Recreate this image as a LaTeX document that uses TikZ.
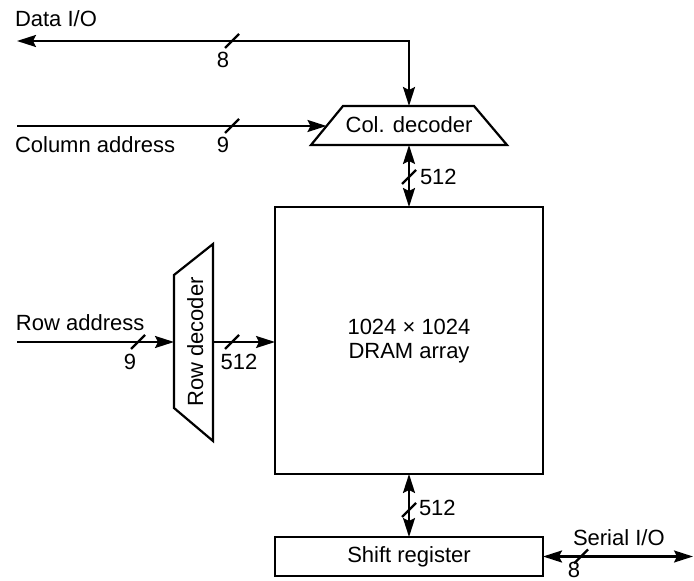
\documentclass[tikz,border=0pt]{standalone}
\usepackage{fontspec}
\setmainfont{Liberation Sans}
\usetikzlibrary{arrows.meta}
\begin{document}
\begin{tikzpicture}[x=0.5pt,y=-0.5pt,line width=1.1pt,
  every node/.style={font=\fontsize{11}{13}\selectfont,inner sep=0pt,outer sep=0pt},
  tip/.style={-{Stealth[length=9.5pt,width=6pt,inset=1.5pt]}},
  both/.style={{Stealth[length=9.5pt,width=6pt,inset=1.5pt]}-{Stealth[length=9.5pt,width=6pt,inset=1.5pt]}},
  blockbox/.style={draw,minimum width=134pt},
  lbl/.style={anchor=base},
  lblw/.style={anchor=base west}]
\useasboundingbox (0,0) rectangle (694,581);
\newcommand\busmark[1]{\draw (#1) ++(-7,7) -- ++(14,-14);}

% memory array and shift register
\node[blockbox,minimum height=133.5pt] (dram) at (409,340.5) {};
\node[lbl] (dramA) at (409,335) {1024 × 1024};
\node[lbl] (dramB) at (409,359) {DRAM array};
\node[blockbox,minimum height=19.5pt] (shift) at (409,556.5) {Shift register};

% column decoder
\coordinate (cbl) at (311,145);
\coordinate (ctl) at (343,106);
\coordinate (ctr) at (474,106);
\coordinate (cbr) at (507,145);
\draw (cbl) -- (ctl) -- (ctr) -- (cbr) -- cycle;
\node[lbl] (col) at (409,133) {Col. decoder};
\coordinate (coltop) at (409,106);
\coordinate (colbot) at (409,145);
\coordinate (colin) at (326.5,126);

% row decoder
\coordinate (rtl) at (174,275);
\coordinate (rtr) at (213,244);
\coordinate (rbr) at (213,441);
\coordinate (rbl) at (174,408);
\draw (rtl) -- (rtr) -- (rbr) -- (rbl) -- cycle;
\node[rotate=90,anchor=base] (row) at (203,342) {Row decoder};
\coordinate (rowin) at (174,342);
\coordinate (rowout) at (213,342);

% free ends
\coordinate (dataend) at (17,41);
\coordinate (datacorner) at (409,41);
\coordinate (colstart) at (17,126);
\coordinate (rowstart) at (17,342);
\coordinate (serialend) at (693,556.5);

% connectors
\draw[both] (dataend) -- (datacorner) -- (coltop);
\draw[tip] (colstart) -- (colin);
\draw[both] (colbot) -- (dram.north);
\draw[tip] (rowstart) -- (rowin);
\draw[tip] (rowout) -- (rowout -| dram.west);
\draw[both] (dram.south) -- (shift.north);
\draw[both] (shift.east) -- (serialend);

% bus width marks
\coordinate (m1) at (232,41);
\coordinate (m2) at (232,126);
\coordinate (m3) at (409,177);
\coordinate (m4) at (138,342);
\coordinate (m5) at (232,342);
\coordinate (m6) at (409,510);
\coordinate (m7) at (581,556.5);
\busmark{m1}\busmark{m2}\busmark{m3}\busmark{m4}\busmark{m5}\busmark{m6}\busmark{m7}

% labels
\node[lblw] (ldata) at (15,27) {Data I/O};
\node[lbl] (n1) at (223,68) {8};
\node[lblw] (lcol) at (15,153) {Column address};
\node[lbl] (n2) at (223,153) {9};
\node[lblw] (n3) at (420,185) {512};
\node[lblw] (lrow) at (16,331) {Row address};
\node[lbl] (n4) at (130,370) {9};
\node[lbl] (n5) at (239,370) {512};
\node[lblw] (n6) at (419,515) {512};
\node[lblw] (lser) at (573,545) {Serial I/O};
\node[lbl] (n7) at (574,577) {8};
\end{tikzpicture}
\end{document}
